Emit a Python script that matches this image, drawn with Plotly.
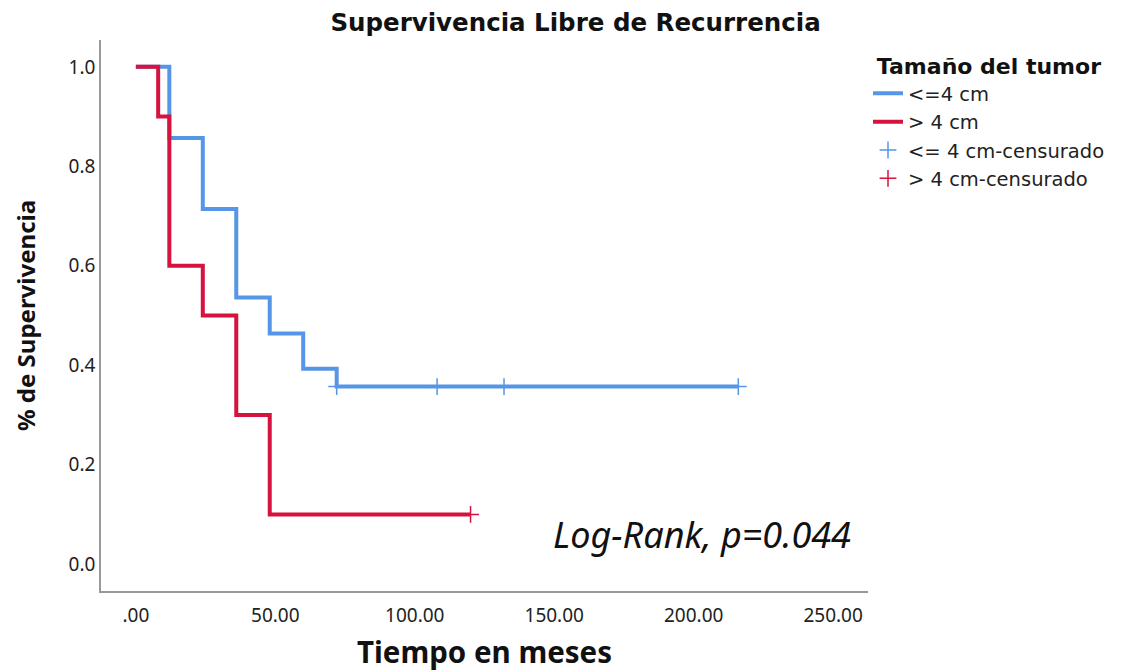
import plotly.graph_objects as go

# Kaplan-Meier estimates, recurrence-free survival by tumour size
small_times = [0, 12, 24, 36, 48, 60, 72, 216]
small_surv = [1.0, 0.857, 0.714, 0.536, 0.464, 0.393, 0.357, 0.357]
small_cens_times = [72, 108, 132, 216]
small_cens_surv = [0.357, 0.357, 0.357, 0.357]

large_times = [0, 8, 12, 24, 36, 48, 120]
large_surv = [1.0, 0.9, 0.6, 0.5, 0.3, 0.1, 0.1]
large_cens_times = [120]
large_cens_surv = [0.1]

x_ticks = [0, 50, 100, 150, 200, 250]
x_tick_text = [".00", "50.00", "100.00", "150.00", "200.00", "250.00"]
y_ticks = [0.0, 0.2, 0.4, 0.6, 0.8, 1.0]
y_tick_text = ["0.0", "0.2", "0.4", "0.6", "0.8", "1.0"]

BLUE = "#5596E6"
RED = "#D5133E"
FONT = "Noto Sans"
WIDE = "DejaVu Sans"

fig = go.Figure()
fig.add_trace(go.Scatter(x=small_times, y=small_surv, mode="lines", line_shape="hv",
                         line=dict(color=BLUE, width=4), name="<=4 cm"))
fig.add_trace(go.Scatter(x=large_times, y=large_surv, mode="lines", line_shape="hv",
                         line=dict(color=RED, width=4), name="> 4 cm"))
fig.add_trace(go.Scatter(x=small_cens_times, y=small_cens_surv, mode="markers",
                         marker=dict(symbol="cross-thin", size=12,
                                     line=dict(color=BLUE, width=1.5)),
                         name="<= 4 cm-censurado"))
fig.add_trace(go.Scatter(x=large_cens_times, y=large_cens_surv, mode="markers",
                         marker=dict(symbol="cross-thin", size=12,
                                     line=dict(color=RED, width=1.5)),
                         name="> 4 cm-censurado"))

fig.add_annotation(x=257, y=0.059, xref="x", yref="y", xanchor="right", yanchor="middle",
                   text="<i>Log-Rank, p=0.044</i>", showarrow=False,
                   font=dict(family=FONT, size=36, color="#111"))

fig.update_layout(
    width=1133, height=672,
    margin=dict(l=101, r=265, t=40, b=81),
    paper_bgcolor="white", plot_bgcolor="white",
    title=dict(text="<b>Supervivencia Libre de Recurrencia</b>", x=0.508, xanchor="center",
               y=0.967, yanchor="middle", font=dict(family=WIDE, size=24.5, color="#111")),
    legend=dict(x=1.0, xanchor="left", y=0.99, yanchor="top",
                title=dict(text="<b>Tamaño del tumor</b>", side="top center",
                           font=dict(family=WIDE, size=22, color="#111")),
                font=dict(family=WIDE, size=19.5, color="#222"),
                itemwidth=30, tracegroupgap=0, bgcolor="rgba(0,0,0,0)"),
    xaxis=dict(range=[-12.5, 262.5], tickvals=x_ticks, ticktext=x_tick_text, automargin=False,
               showgrid=False, zeroline=False, showline=True, linecolor="#999", linewidth=1.5,
               ticks="", ticklabelstandoff=6, tickfont=dict(family=FONT, size=19, color="#222"),
               title=dict(text="<b>Tiempo en meses</b>", standoff=24,
                          font=dict(family=FONT, size=29.5, color="#111"))),
    yaxis=dict(range=[-0.054, 1.054], tickvals=y_ticks, ticktext=y_tick_text, automargin=False,
               showgrid=False, zeroline=False, showline=True, linecolor="#999", linewidth=1.5,
               ticks="", tickfont=dict(family=FONT, size=19, color="#222"),
               title=dict(text="<b>% de Supervivencia</b>", standoff=26,
                          font=dict(family=FONT, size=24, color="#111"))),
)

fig.write_html("out.html")
